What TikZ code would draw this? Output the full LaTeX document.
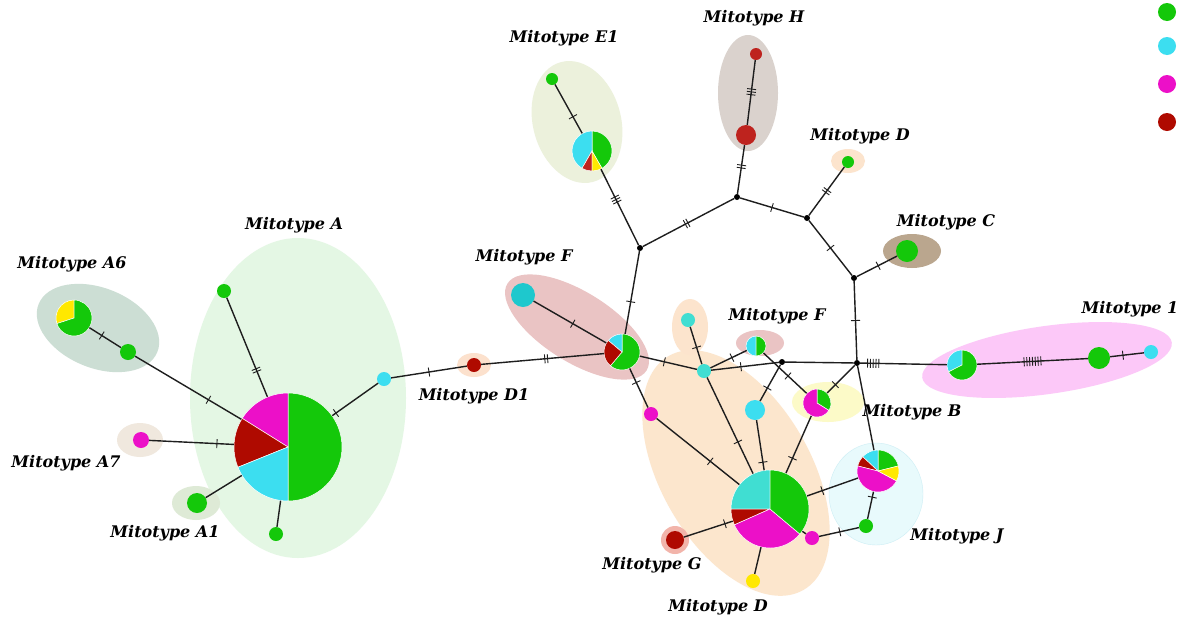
\documentclass[tikz,border=0pt]{standalone}
\usepackage{fontspec}
\setmainfont{DejaVu Serif}
\usetikzlibrary{decorations.markings}
\definecolor{pgrn}{RGB}{20,200,10}
\definecolor{pcyn}{RGB}{60,222,240}
\definecolor{pmag}{RGB}{236,16,200}
\definecolor{pdred}{RGB}{175,10,0}
\definecolor{pred}{RGB}{190,35,30}
\definecolor{pyel}{RGB}{255,232,0}
\definecolor{pteal}{RGB}{30,200,205}
\definecolor{ptq}{RGB}{64,222,210}
\definecolor{lnc}{RGB}{30,30,30}
\newcommand\slice[5]{\fill[fill=#5,draw=white,line width=0.5pt] (#1.center) -- ++(#3:#2pt) arc[start angle=#3,end angle=#4,radius=#2pt] -- cycle;}
\tikzset{
 hn/.style={circle,inner sep=0pt,minimum size=#1},
 jn/.style={circle,inner sep=0pt,minimum size=6pt,fill=black},
 ln/.style={line width=1.4pt,draw=lnc},
 tk/.style 2 args={postaction={decorate,decoration={markings,mark=at position #1 with {\foreach \k in {1,...,#2}{\draw[line width=0.9pt,lnc] ({(\k-(#2+1)/2)*2.8pt},-4.5pt) -- ({(\k-(#2+1)/2)*2.8pt},4.5pt);}}}}},
 lab/.style={font=\fontsize{16}{18}\selectfont\bfseries\itshape,text=black,inner sep=0pt}
}
\begin{document}
\begin{tikzpicture}[x=1pt,y=1pt]
\useasboundingbox (0,0) rectangle (1181,-622);
\fill[white] (0,0) rectangle (1181,-622);
% background ellipses
\fill[fill={rgb,255:red,228;green,247;blue,228}] (298,-398) ellipse (108 and 160);
\fill[fill={rgb,255:red,204;green,222;blue,212},rotate around={-22:(98,-328)}] (98,-328) ellipse (64 and 40);
\fill[fill={rgb,255:red,240;green,232;blue,222}] (140,-440) ellipse (23 and 17);
\fill[fill={rgb,255:red,222;green,234;blue,214}] (196,-503) ellipse (24 and 17);
\fill[fill={rgb,255:red,252;green,225;blue,205}] (474,-365) ellipse (17 and 12);
\fill[fill={rgb,255:red,234;green,196;blue,196},rotate around={-32:(577,-327)}] (577,-327) ellipse (82 and 35);
\fill[fill={rgb,255:red,236;green,241;blue,220},rotate around={15:(577,-122)}] (577,-122) ellipse (44 and 62);
\fill[fill={rgb,255:red,218;green,210;blue,205}] (748,-93) ellipse (30 and 58);
\fill[fill={rgb,255:red,252;green,228;blue,205}] (848,-161) ellipse (17 and 12);
\fill[fill={rgb,255:red,186;green,166;blue,142}] (912,-251) ellipse (29 and 17);
\fill[fill={rgb,255:red,252;green,200;blue,248},rotate around={8:(1047,-360)}] (1047,-360) ellipse (126 and 34);
\fill[fill={rgb,255:red,252;green,230;blue,205},rotate around={-60:(736,-473)}] (736,-473) ellipse (135 and 75);
\fill[fill={rgb,255:red,234;green,196;blue,196}] (760,-343) ellipse (24 and 13);
\fill[fill={rgb,255:red,252;green,228;blue,205}] (690,-327) ellipse (18 and 28);
\fill[fill={rgb,255:red,252;green,250;blue,200}] (828,-402) ellipse (36 and 20);
\fill[fill={rgb,255:red,242;green,180;blue,170}] (675,-540) circle (14);
\filldraw[fill={rgb,255:red,232;green,250;blue,252},draw={rgb,255:red,205;green,238;blue,245}] (876,-494) ellipse (47 and 51);
% legend
\node[hn=18pt,fill=pgrn] (L1) at (1167,-12) {};
\node[hn=18pt,fill=pcyn] (L2) at (1167,-46) {};
\node[hn=18pt,fill=pmag] (L3) at (1167,-84) {};
\node[hn=18pt,fill=pdred] (L4) at (1167,-122) {};
% nodes
\node[hn=108pt] (A) at (288,-447) {};
\slice{A}{54}{-90}{90}{pgrn}\slice{A}{54}{90}{148}{pmag}\slice{A}{54}{148}{202}{pdred}\slice{A}{54}{202}{270}{pcyn}
\node[hn=14pt,fill=pgrn] (a1) at (224,-291) {};
\node[hn=36pt] (A6) at (74,-318) {};
\slice{A6}{18}{90}{198}{pyel}\slice{A6}{18}{198}{450}{pgrn}
\node[hn=16pt,fill=pgrn] (a6s) at (128,-352) {};
\node[hn=16pt,fill=pmag] (A7) at (141,-440) {};
\node[hn=20pt,fill=pgrn] (A1) at (197,-503) {};
\node[hn=14pt,fill=pgrn] (a2) at (276,-534) {};
\node[hn=14pt,fill=pcyn] (cy1) at (384,-379) {};
\node[hn=14pt,fill=pdred] (D1) at (474,-365) {};
\node[hn=24pt,fill=pteal] (Fb) at (523,-295) {};
\node[hn=36pt] (F) at (622,-352) {};
\slice{F}{18}{230}{450}{pgrn}\slice{F}{18}{90}{140}{pcyn}\slice{F}{18}{140}{230}{pdred}
\node[hn=14pt,fill=pmag] (pk1) at (651,-414) {};
\node[hn=14pt,fill=ptq] (tq1) at (704,-371) {};
\node[hn=14pt,fill=ptq] (tq2) at (688,-320) {};
\node[jn] (J1) at (640,-248) {};
\node[jn] (J2) at (737,-197) {};
\node[jn] (J3) at (807,-218) {};
\node[jn] (J4) at (854,-278) {};
\node[jn] (J5) at (857,-363) {};
\node[jn] (J6) at (782,-362) {};
\node[hn=40pt] (E1) at (592,-151) {};
\slice{E1}{20}{-60}{90}{pgrn}\slice{E1}{20}{90}{240}{pcyn}\slice{E1}{20}{240}{270}{pred}\slice{E1}{20}{270}{300}{pyel}
\node[hn=12pt,fill=pgrn] (E1s) at (552,-79) {};
\node[hn=20pt,fill=pred] (Hb) at (746,-135) {};
\node[hn=12pt,fill=pred] (Hs) at (756,-54) {};
\node[hn=12pt,fill=pgrn] (Dt) at (848,-162) {};
\node[hn=22pt,fill=pgrn] (C) at (907,-251) {};
\node[hn=30pt] (M1) at (962,-365) {};
\slice{M1}{15}{90}{207}{pcyn}\slice{M1}{15}{207}{450}{pgrn}
\node[hn=22pt,fill=pgrn] (M1g) at (1099,-358) {};
\node[hn=14pt,fill=pcyn] (M1c) at (1151,-352) {};
\node[hn=20pt] (Fs) at (756,-346) {};
\slice{Fs}{10}{90}{270}{pcyn}\slice{Fs}{10}{-90}{90}{pgrn}
\node[hn=28pt] (B) at (817,-403) {};
\slice{B}{14}{-32}{90}{pgrn}\slice{B}{14}{90}{328}{pmag}
\node[hn=20pt,fill=pcyn] (cy2) at (755,-410) {};
\node[hn=78pt] (D) at (770,-509) {};
\slice{D}{39}{90}{180}{ptq}\slice{D}{39}{180}{204}{pdred}\slice{D}{39}{204}{320}{pmag}\slice{D}{39}{320}{450}{pgrn}
\node[hn=18pt,fill=pdred] (G) at (675,-540) {};
\node[hn=14pt,fill=pyel] (ye) at (753,-581) {};
\node[hn=14pt,fill=pmag] (pk2) at (812,-538) {};
\node[hn=14pt,fill=pgrn] (gs) at (866,-526) {};
\node[hn=42pt] (Jp) at (878,-471) {};
\slice{Jp}{21}{14}{90}{pgrn}\slice{Jp}{21}{90}{137}{pcyn}\slice{Jp}{21}{137}{166}{pdred}\slice{Jp}{21}{166}{332}{pmag}\slice{Jp}{21}{332}{374}{pyel}
% edges
\draw[ln,tk={0.27}{2}] (A) -- (a1);
\draw[ln,tk={0.31}{1}] (A) -- (a6s);
\draw[ln,tk={0.61}{1}] (a6s) -- (A6);
\draw[ln,tk={0.8}{1}] (A7) -- (A);
\draw[ln] (A1) -- (A);
\draw[ln] (a2) -- (A);
\draw[ln,tk={0.92}{1}] (cy1) -- (A);
\draw[ln,tk={0.5}{1}] (cy1) -- (D1);
\draw[ln,tk={0.53}{2}] (D1) -- (F);
\draw[ln,tk={0.54}{1}] (Fb) -- (F);
\draw[ln,tk={0.39}{1}] (F) -- (J1);
\draw[ln,tk={0.36}{1}] (F) -- (pk1);
\draw[ln,tk={0.43}{1}] (F) -- (tq1);
\draw[ln,tk={0.55}{1}] (tq2) -- (tq1);
\draw[ln,tk={0.44}{1}] (tq1) -- (J6);
\draw[ln,tk={0.59}{1}] (tq1) -- (Fs);
\draw[ln] (J6) -- (J5);
\draw[ln,tk={0.57}{1}] (Fs) -- (B);
\draw[ln,tk={0.64}{1}] (J6) -- (cy2);
\draw[ln,tk={0.84}{1}] (cy2) -- (D);
\draw[ln,tk={0.67}{1}] (tq1) -- (D);
\draw[ln,tk={0.65}{1}] (pk1) -- (D);
\draw[ln,tk={0.74}{1}] (B) -- (D);
\draw[ln,tk={0.84}{1}] (G) -- (D);
\draw[ln] (ye) -- (D);
\draw[ln] (D) -- (pk2);
\draw[ln,tk={0.52}{1}] (pk2) -- (gs);
\draw[ln,tk={0.8}{1}] (gs) -- (Jp);
\draw[ln,tk={0.3}{1}] (D) -- (Jp);
\draw[ln] (J5) -- (Jp);
\draw[ln,tk={0.7}{1}] (J5) -- (B);
\draw[ln,tk={0.15}{5}] (J5) -- (M1);
\draw[ln,tk={0.5}{7}] (M1) -- (M1g);
\draw[ln,tk={0.38}{1}] (M1g) -- (M1c);
\draw[ln,tk={0.5}{1}] (J4) -- (J5);
\draw[ln,tk={0.53}{1}] (J4) -- (C);
\draw[ln,tk={0.5}{1}] (J3) -- (J4);
\draw[ln,tk={0.5}{2}] (J3) -- (Dt);
\draw[ln,tk={0.5}{1}] (J2) -- (J3);
\draw[ln,tk={0.56}{2}] (J2) -- (Hb);
\draw[ln,tk={0.51}{3}] (Hb) -- (Hs);
\draw[ln,tk={0.48}{2}] (J1) -- (J2);
\draw[ln,tk={0.6}{3}] (J1) -- (E1);
\draw[ln,tk={0.34}{1}] (E1) -- (E1s);
% labels
\node[lab] (tA6) at (72,-264) {Mitotype A6};
\node[lab] (tA) at (294,-225) {Mitotype A};
\node[lab] (tA7) at (66,-463) {Mitotype A7};
\node[lab] (tA1) at (165,-533) {Mitotype A1};
\node[lab] (tD1) at (474,-396) {Mitotype D1};
\node[lab] (tFl) at (524,-257) {Mitotype F};
\node[lab] (tE1) at (564,-38) {Mitotype E1};
\node[lab] (tH) at (754,-18) {Mitotype H};
\node[lab] (tDt) at (860,-136) {Mitotype D};
\node[lab] (tC) at (946,-222) {Mitotype C};
\node[lab] (t1) at (1130,-309) {Mitotype 1};
\node[lab] (tFm) at (777,-316) {Mitotype F};
\node[lab] (tB) at (912,-412) {Mitotype B};
\node[lab] (tJ) at (957,-536) {Mitotype J};
\node[lab] (tG) at (652,-565) {Mitotype G};
\node[lab] (tDb) at (718,-607) {Mitotype D};
\end{tikzpicture}
\end{document}
